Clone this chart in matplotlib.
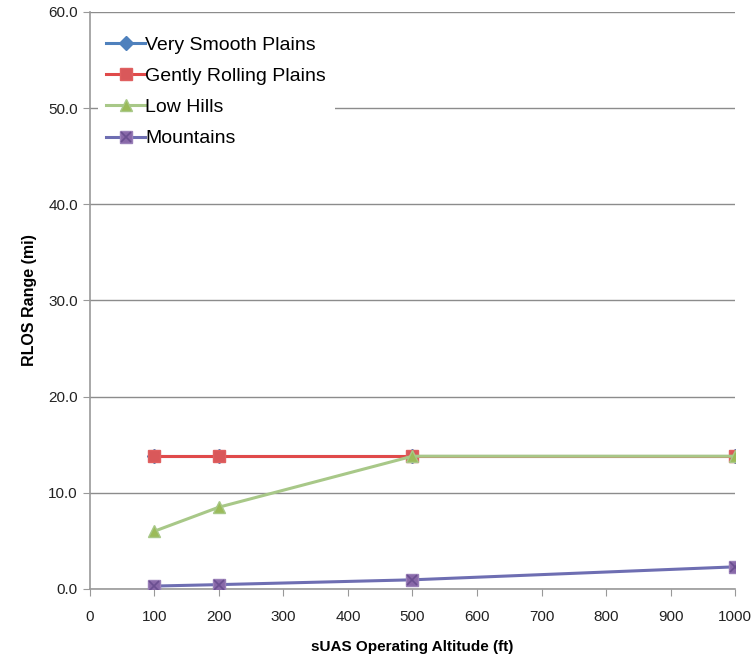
"""
RLOS range vs sUAS operating altitude, by terrain type
"""
import matplotlib
matplotlib.use('Agg')
import matplotlib.pyplot as plt
from matplotlib.legend_handler import HandlerTuple
from matplotlib.lines import Line2D
from matplotlib.ticker import FormatStrFormatter

plt.rcParams['font.family'] = ['Liberation Sans', 'DejaVu Sans']

# Data
altitudes = [100, 200, 500, 1000]
very_smooth = [13.8, 13.8, 13.8, 13.8]
gently_rolling = [13.8, 13.8, 13.8, 13.8]
low_hills = [6.0, 8.5, 13.8, 13.8]
mountains = [0.3, 0.45, 0.95, 2.3]

x_ticks = list(range(0, 1001, 100))
y_ticks = [0, 10, 20, 30, 40, 50, 60]

fig = plt.figure(figsize=(7.54, 6.61), dpi=100)
ax = fig.add_axes([0.119, 0.109, 0.856, 0.873])

l1, = ax.plot(altitudes, very_smooth, color='#4F81BD', marker='D', markersize=7,
              linewidth=2.2, label='Very Smooth Plains', zorder=2)
l2, = ax.plot(altitudes, gently_rolling, color='#E04A4A', marker='s', markersize=9,
              markerfacecolor='#D9585A', markeredgecolor='#E06060', linewidth=2.2,
              label='Gently Rolling Plains', zorder=3)
l3, = ax.plot(altitudes, low_hills, color='#A8C888', marker='^', markersize=9,
              markerfacecolor='#9BBB59', markeredgecolor='#A8C888', linewidth=2.2,
              label='Low Hills', zorder=4)
l4, = ax.plot(altitudes, mountains, color='#6E6EB2', marker='s', markersize=9,
              markerfacecolor='#8868A8', markeredgecolor='#9A80B8', linewidth=2.2,
              label='Mountains', zorder=5)
ax.plot(altitudes, mountains, linestyle='none', marker='x', markersize=7,
        markeredgecolor='#6A4F90', markeredgewidth=1.2, zorder=6)
x_handle = Line2D([], [], linestyle='none', marker='x', markersize=7,
                  markeredgecolor='#6A4F90', markeredgewidth=1.2)

ax.set_xlim(0, 1000)
ax.set_ylim(0, 60)
ax.set_xticks(x_ticks)
ax.set_yticks(y_ticks)
ax.yaxis.set_major_formatter(FormatStrFormatter('%.1f'))
ax.tick_params(axis='both', direction='out', length=5, color='#999999',
               labelsize=11, labelcolor='#222222')
ax.tick_params(axis='x', pad=10)

for side in ['top', 'right']:
    ax.spines[side].set_visible(False)
for side in ['left', 'bottom']:
    ax.spines[side].set_color('#999999')
    ax.spines[side].set_linewidth(1.2)

ax.grid(axis='y', color='#8C8C8C', linewidth=1)
ax.set_axisbelow(True)

ax.set_xlabel('sUAS Operating Altitude (ft)', fontsize=11, fontweight='bold', labelpad=12)
ax.set_ylabel('RLOS Range (mi)', fontsize=11.5, fontweight='bold', labelpad=8)

leg = ax.legend([l1, l2, l3, (l4, x_handle)],
                ['Very Smooth Plains', 'Gently Rolling Plains', 'Low Hills', 'Mountains'],
                handler_map={tuple: HandlerTuple(ndivide=1, pad=0)},
                loc='upper left', bbox_to_anchor=(-0.003, 0.99), fontsize=14,
                frameon=True, framealpha=1, edgecolor='white', facecolor='white',
                fancybox=False, handlelength=2.0, handletextpad=0.0,
                labelspacing=0.7, borderpad=0.45)
leg.get_frame().set_linewidth(0)
leg.set_zorder(10)

plt.savefig('out.png', dpi=100)
plt.close()
